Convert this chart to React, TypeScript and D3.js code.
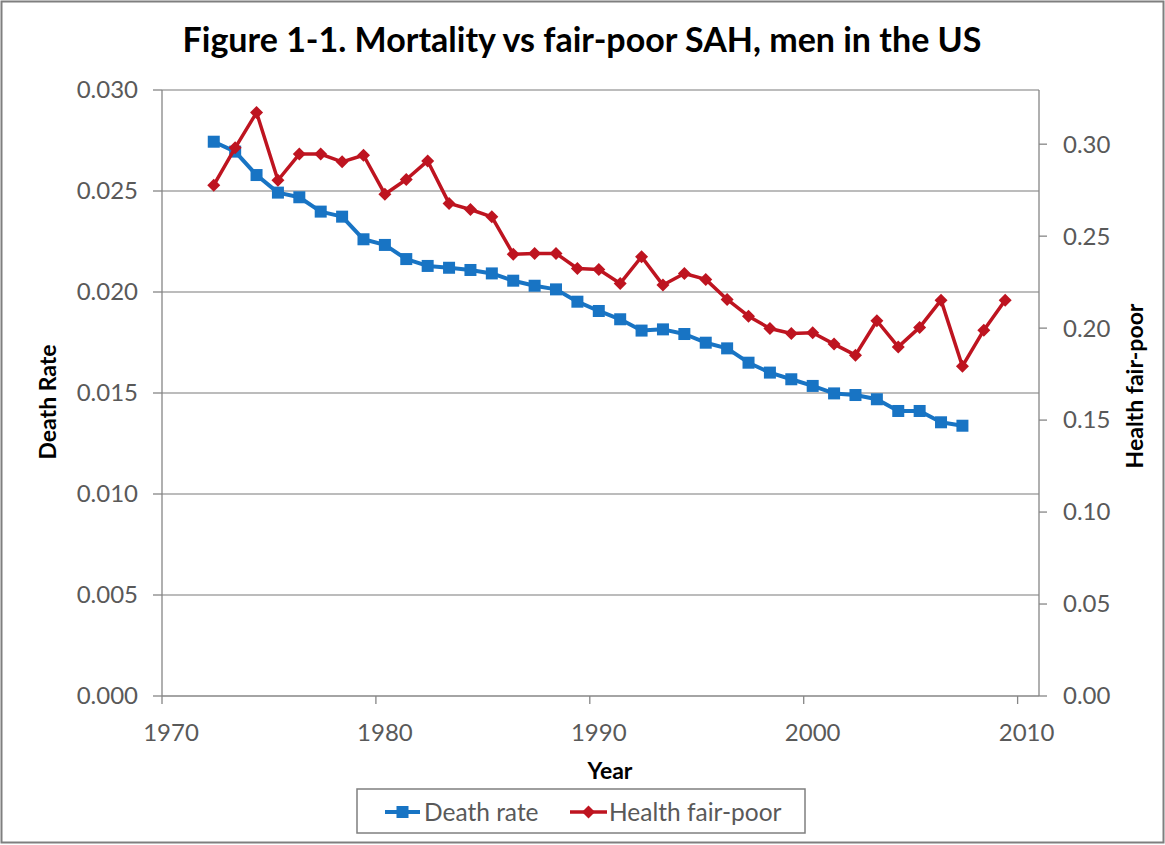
import React from "react";
import * as d3 from "d3";

const deathYears = [
  1972.42, 1973.42, 1974.42, 1975.42, 1976.42, 1977.42, 1978.42, 1979.42, 1980.42, 1981.42,
  1982.42, 1983.42, 1984.42, 1985.42, 1986.42, 1987.42, 1988.42, 1989.42, 1990.42, 1991.42,
  1992.42, 1993.42, 1994.42, 1995.42, 1996.42, 1997.42, 1998.42, 1999.42, 2000.42, 2001.42,
  2002.42, 2003.42, 2004.42, 2005.42, 2006.42, 2007.42,
];
const deathRate = [
  0.02744, 0.02695, 0.02579, 0.02492, 0.02469, 0.02398, 0.02373, 0.02261, 0.02233, 0.02163,
  0.02129, 0.0212, 0.02109, 0.02092, 0.02056, 0.02031, 0.02013, 0.01952, 0.01906, 0.01865,
  0.01809, 0.01815, 0.01792, 0.01749, 0.01721, 0.0165, 0.01601, 0.01568, 0.01535, 0.01498,
  0.0149, 0.01469, 0.01411, 0.01411, 0.01355, 0.01338,
];
const healthYears = [
  1972.42, 1973.42, 1974.42, 1975.42, 1976.42, 1977.42, 1978.42, 1979.42, 1980.42, 1981.42,
  1982.42, 1983.42, 1984.42, 1985.42, 1986.42, 1987.42, 1988.42, 1989.42, 1990.42, 1991.42,
  1992.42, 1993.42, 1994.42, 1995.42, 1996.42, 1997.42, 1998.42, 1999.42, 2000.42, 2001.42,
  2002.42, 2003.42, 2004.42, 2005.42, 2006.42, 2007.42, 2008.42, 2009.42,
];
const healthFairPoor = [
  0.2777, 0.298, 0.3172, 0.2804, 0.2946, 0.2946, 0.2904, 0.294, 0.2728, 0.2808,
  0.2909, 0.2678, 0.2645, 0.2605, 0.2402, 0.2406, 0.2406, 0.2324, 0.2319, 0.2243,
  0.2388, 0.2234, 0.2297, 0.2265, 0.2156, 0.2065, 0.1998, 0.1971, 0.1975, 0.1913,
  0.1853, 0.204, 0.1898, 0.2004, 0.2152, 0.1793, 0.1989, 0.2152,
];
const xTicks = [1970, 1980, 1990, 2000, 2010];
const leftTicks = [0, 0.005, 0.01, 0.015, 0.02, 0.025, 0.03];
const rightTicks = [0, 0.05, 0.1, 0.15, 0.2, 0.25, 0.3];

const titleText = "Figure 1-1. Mortality vs fair-poor SAH, men in the US";
const seriesNames = ["Death rate", "Health fair-poor"];

const FONT = "Lato, 'Open Sans', sans-serif";
const BLUE = "#1874C4";
const RED = "#BE1420";
const GRID = "#A6A6A6";
const LABEL = "#595959";

export default function App() {
  const left = 162, right = 1039, top = 90, bottom = 696;
  const x = d3.scaleLinear().domain([1970, 2011]).range([left, right]);
  const yL = d3.scaleLinear().domain([0, 0.03]).range([bottom, top]);
  const yR = d3.scaleLinear().domain([0, 0.33]).range([bottom, top - 1]);

  const deathPts = deathYears.map((yr, i) => [x(yr), yL(deathRate[i])] as [number, number]);
  const healthPts = healthYears.map((yr, i) => [x(yr), yR(healthFairPoor[i])] as [number, number]);
  const line = d3.line();

  const sq = 12;
  const dm = 6.5;
  const diamond = (cx: number, cy: number) =>
    `M${cx},${cy - dm}L${cx + dm},${cy}L${cx},${cy + dm}L${cx - dm},${cy}Z`;

  return (
    <svg width={1165} height={845} style={{ position: "absolute", left: 0, top: 0, background: "#fff" }}>
      <rect x={1.5} y={1.5} width={1162} height={841} fill="#fff" stroke="#7F7F7F" strokeWidth={2} />
      <text x={582} y={52} textAnchor="middle" fontFamily={FONT} fontWeight={700} fontSize={34} fill="#000">
        {titleText}
      </text>

      {/* gridlines */}
      {leftTicks.filter((t) => t > 0).map((t) => (
        <line key={"g" + t} x1={left} x2={right} y1={yL(t)} y2={yL(t)} stroke={GRID} strokeWidth={1.3} />
      ))}

      {/* axes */}
      <line x1={left} x2={left} y1={top} y2={bottom} stroke="#868686" strokeWidth={1.3} />
      <line x1={right} x2={right} y1={top} y2={bottom} stroke="#868686" strokeWidth={1.3} />
      <line x1={left} x2={right} y1={bottom} y2={bottom} stroke="#868686" strokeWidth={1.3} />

      {leftTicks.map((t) => (
        <g key={"l" + t}>
          <line x1={left - 9} x2={left} y1={yL(t)} y2={yL(t)} stroke="#868686" strokeWidth={1.3} />
          <text x={138} y={yL(t)} dy="0.35em" textAnchor="end" fontFamily={FONT} fontSize={24} fill={LABEL}>
            {d3.format(".3f")(t)}
          </text>
        </g>
      ))}
      {rightTicks.map((t) => (
        <g key={"r" + t}>
          <line x1={right} x2={right + 8} y1={yR(t)} y2={yR(t)} stroke="#868686" strokeWidth={1.3} />
          <text x={1063} y={yR(t)} dy="0.35em" textAnchor="start" fontFamily={FONT} fontSize={24} fill={LABEL}>
            {d3.format(".2f")(t)}
          </text>
        </g>
      ))}
      {xTicks.map((t) => (
        <g key={"x" + t}>
          <line x1={x(t)} x2={x(t)} y1={bottom} y2={bottom + 8} stroke="#868686" strokeWidth={1.3} />
          <text x={x(t) + 9} y={733} dy="0.35em" textAnchor="middle" fontFamily={FONT} fontSize={24} fill={LABEL}>
            {t}
          </text>
        </g>
      ))}

      {/* axis titles */}
      <text x={610} y={779} textAnchor="middle" fontFamily={FONT} fontWeight={700} fontSize={23} fill="#000">
        Year
      </text>
      <text transform="translate(56,402) rotate(-90)" textAnchor="middle" fontFamily={FONT} fontWeight={700} fontSize={23} fill="#000">
        Death Rate
      </text>
      <text transform="translate(1143,386) rotate(-90)" textAnchor="middle" fontFamily={FONT} fontWeight={700} fontSize={23} fill="#000">
        Health fair-poor
      </text>

      {/* series */}
      <path d={line(deathPts) ?? ""} fill="none" stroke={BLUE} strokeWidth={4} strokeLinejoin="round" />
      {deathPts.map(([cx, cy], i) => (
        <rect key={"d" + i} x={cx - sq / 2} y={cy - sq / 2} width={sq} height={sq} fill={BLUE} />
      ))}
      <path d={line(healthPts) ?? ""} fill="none" stroke={RED} strokeWidth={3.5} strokeLinejoin="round" />
      {healthPts.map(([cx, cy], i) => (
        <path key={"h" + i} d={diamond(cx, cy)} fill={RED} />
      ))}

      {/* legend */}
      <rect x={357} y={789} width={448} height={44} fill="#fff" stroke="#7F7F7F" strokeWidth={1.5} />
      <line x1={385} x2={420} y1={812} y2={812} stroke={BLUE} strokeWidth={4} />
      <rect x={402.5 - sq / 2} y={812 - sq / 2} width={sq} height={sq} fill={BLUE} />
      <text x={424} y={812} dy="0.35em" fontFamily={FONT} fontSize={24.5} fill={LABEL}>
        {seriesNames[0]}
      </text>
      <line x1={570} x2={607} y1={812} y2={812} stroke={RED} strokeWidth={3.5} />
      <path d={diamond(588.5, 812)} fill={RED} />
      <text x={609} y={812} dy="0.35em" fontFamily={FONT} fontSize={24.5} fill={LABEL}>
        {seriesNames[1]}
      </text>
    </svg>
  );
}
